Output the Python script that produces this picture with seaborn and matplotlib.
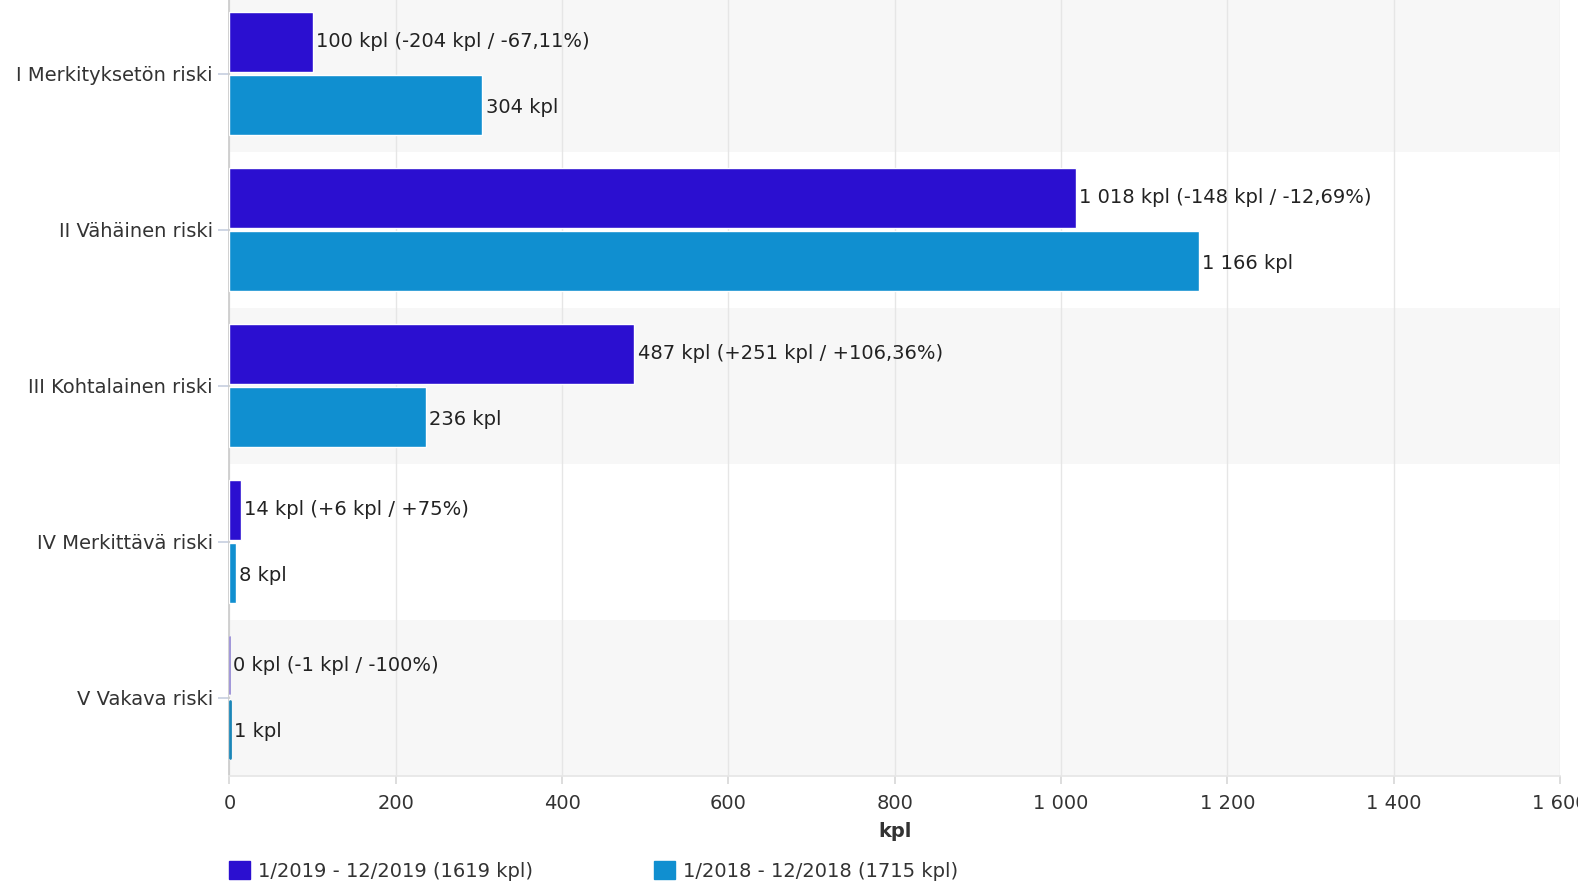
"""
Riskiluokittain kpl, 2019 vs 2018 - vaakapylväskaavio
"""

import pandas as pd
import matplotlib
matplotlib.use("Agg")
import matplotlib.pyplot as plt
from matplotlib.patches import Patch
from matplotlib.ticker import FuncFormatter
import seaborn as sns

# data
categories = ["I Merkityksetön riski", "II Vähäinen riski", "III Kohtalainen riski",
              "IV Merkittävä riski", "V Vakava riski"]
values_2019 = [100, 1018, 487, 14, 0]
values_2018 = [304, 1166, 236, 8, 1]
series = ["1/2019 - 12/2019", "1/2018 - 12/2018"]
colors = ["#2b0fd0", "#108fd0"]
x_ticks = [0, 200, 400, 600, 800, 1000, 1200, 1400, 1600]

FS = 14


def fmt_num(v):
    return f"{v:,.0f}".replace(",", " ")


def fmt_pct(p):
    s = f"{p:+.2f}".rstrip("0").rstrip(".")
    return s.replace(".", ",")


def main():
    sns.set_theme(style="white")
    plt.rcParams["font.family"] = ["DejaVu Sans"]

    df = pd.DataFrame({
        "kategoria": categories * 2,
        "jakso": [series[0]] * len(categories) + [series[1]] * len(categories),
        "kpl": values_2019 + values_2018,
    })

    fig = plt.figure(figsize=(15.78, 8.83), dpi=100)
    ax = fig.add_axes([0.1454, 0.1217, 0.8432, 0.8834])

    # alternating background bands
    for i in range(len(categories)):
        if i % 2 == 0:
            ax.axhspan(i - 0.5, i + 0.5, color="#f7f7f7", zorder=0, lw=0)

    sns.barplot(data=df, y="kategoria", x="kpl", hue="jakso", orient="h",
                palette=colors, width=0.8, gap=0.04, saturation=1,
                legend=False, ax=ax, zorder=3)

    # labels on bars
    for i, cat in enumerate(categories):
        v19, v18 = values_2019[i], values_2018[i]
        diff = v19 - v18
        pct = diff / v18 * 100
        lab19 = f"{fmt_num(v19)} kpl ({diff:+d} kpl / {fmt_pct(pct)}%)"
        lab18 = f"{fmt_num(v18)} kpl"
        ax.text(v19 + 4, i - 0.205, lab19, va="center", ha="left",
                fontsize=FS, color="#222222", zorder=4)
        ax.text(v18 + 4, i + 0.215, lab18, va="center", ha="left",
                fontsize=FS, color="#222222", zorder=4)

    # thin visible edges for the near-zero bars of the last category
    last = len(categories) - 1
    ax.plot([0.6, 0.6], [last - 0.39, last - 0.02], color="#9a8fd6", lw=1.3, zorder=5)
    ax.plot([1.2, 1.2], [last + 0.02, last + 0.39], color="#1a86b8", lw=2, zorder=5)

    ax.set_xlim(0, 1600)
    ax.set_ylim(len(categories) - 0.5, -0.5)
    ax.set_xticks(x_ticks)
    ax.xaxis.set_major_formatter(FuncFormatter(lambda v, p: fmt_num(v)))
    ax.grid(axis="x", color="#e6e6e6", lw=1, zorder=1)
    ax.set_axisbelow(True)

    ax.tick_params(axis="x", length=6, color="#d8d8d8", labelsize=FS,
                   labelcolor="#333333", pad=7, bottom=True)
    ax.tick_params(axis="y", length=8, color="#c8d0e0", labelsize=FS,
                   labelcolor="#333333", pad=4, left=True)
    ax.set_ylabel("")
    ax.set_xlabel("kpl", fontsize=FS, fontweight="bold", color="#333333", labelpad=7)

    for s in ["top", "right"]:
        ax.spines[s].set_visible(False)
    ax.spines["left"].set_color("#cccccc")
    ax.spines["bottom"].set_color("#e6e6e6")

    totals = [sum(values_2019), sum(values_2018)]
    handles = [Patch(facecolor=c, edgecolor=c) for c in colors]
    labels = [f"{s} ({t} kpl)" for s, t in zip(series, totals)]
    fig.legend(handles, labels, loc="lower left", bbox_to_anchor=(0.134, -0.017),
               ncol=2, frameon=False, fontsize=FS, handlelength=1.1,
               handleheight=1.1, handletextpad=0.4, columnspacing=6.2,
               labelcolor="#333333")

    fig.savefig("out.png", dpi=100)


if __name__ == "__main__":
    main()
